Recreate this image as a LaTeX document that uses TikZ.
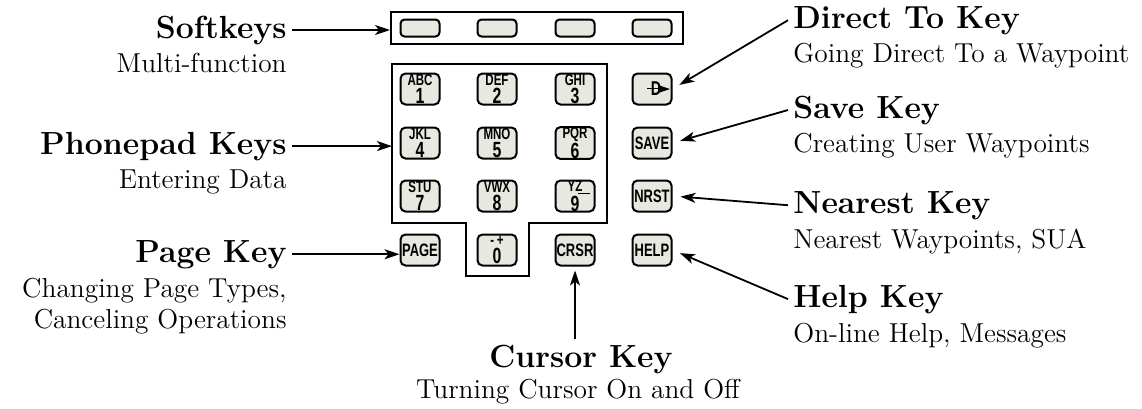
\documentclass[tikz,border=0pt]{standalone}
\usepackage{fontspec}
\usepackage{tikz}
\usetikzlibrary{arrows.meta}
\newfontfamily\keyfont[FakeStretch=0.72]{Liberation Sans}
\definecolor{ink}{HTML}{000000}
\definecolor{keyfill}{HTML}{E8E8E0}
\newcommand{\keytxt}[2]{\shortstack{\fontsize{8}{8}\selectfont #1\\[-2pt]\fontsize{11}{11}\selectfont #2}}
\tikzset{
  padframe/.style={draw=ink, line width=1pt, line join=miter},
  keybox/.style={
    draw=ink,
    fill=keyfill,
    line width=1pt,
    rounded corners=2.5pt,
    minimum width=19.5pt,
    minimum height=15.5pt,
    inner sep=0pt,
    font=\keyfont\bfseries
  },
  softkey/.style={keybox, minimum height=8.5pt, rounded corners=2pt},
  wordkey/.style={keybox, font=\keyfont\bfseries\fontsize{9}{9}\selectfont},
  lbl/.style={font=\bfseries\fontsize{16}{18}\selectfont, inner sep=2.5pt},
  lblsub/.style={font=\fontsize{13.7}{15.5}\selectfont, inner sep=2.5pt},
  pointer/.style={draw=ink, line width=0.9pt, -{Stealth[length=7.5pt,width=5pt,inset=2pt]}}
}

\begin{document}
\begin{tikzpicture}[x=0.5pt, y=-0.5pt]
  \useasboundingbox (0,0) rectangle (1142,408);

  \node[padframe, minimum width=146pt, minimum height=16pt, inner sep=0pt] (softbar) at (537,28) {};
  \node[softkey] (sk1) at (420,28) {};
  \node[softkey] (sk2) at (497,28) {};
  \node[softkey] (sk3) at (575,28) {};
  \node[softkey] (sk4) at (652,28) {};

  \draw[padframe] (392,64) -- (607,64) -- (607,223) -- (529,223) -- (529,276)
    -- (466,276) -- (466,223) -- (392,223) -- cycle;
  \coordinate (padwest) at (392,145);

  \node[keybox] (k1) at (420,89) {\keytxt{ABC}{1}};
  \node[keybox] (k2) at (497,89) {\keytxt{DEF}{2}};
  \node[keybox] (k3) at (575,89) {\keytxt{GHI}{3}};
  \node[keybox] (kdto) at (652,89) {\fontsize{10}{10}\selectfont\hspace{4pt}\rlap{\kern-2pt\rule[3.3pt]{6pt}{0.7pt}}D\hspace{6.5pt}};
  \fill[ink] (kdto.center) ++(6,-4) -- ++(12,4) -- ++(-12,4) -- cycle;
  \node[keybox] (k4) at (420,143) {\keytxt{JKL}{4}};
  \node[keybox] (k5) at (497,143) {\keytxt{MNO}{5}};
  \node[keybox] (k6) at (575,143) {\keytxt{PQR}{6}};
  \node[wordkey] (ksave) at (652,143) {SAVE};
  \node[keybox] (k7) at (420,196) {\keytxt{STU}{7}};
  \node[keybox] (k8) at (497,196) {\keytxt{VWX}{8}};
  \node[keybox] (k9) at (575,196) {\keytxt{YZ\rlap{\kern-2pt\rule[-1pt]{6pt}{0.4pt}}}{9}};
  \node[wordkey] (knrst) at (652,196) {NRST};
  \node[wordkey] (kpage) at (420,250) {PAGE};
  \node[keybox] (k0) at (497,250) {\keytxt{-\,+}{0}};
  \node[wordkey] (kcrsr) at (575,250) {CRSR};
  \node[wordkey] (khelp) at (652,250) {HELP};

  \node[lbl, anchor=base east] (softlbl) at (292,38) {Softkeys};
  \node[lblsub, anchor=base east] (softsub) at (292,72) {Multi-function};
  \node[lbl, anchor=base east] (padlbl) at (292,154) {Phonepad Keys};
  \node[lblsub, anchor=base east] (padsub) at (292,188) {Entering Data};
  \node[lbl, anchor=base east] (pagelbl) at (292,262) {Page Key};
  \node[lblsub, anchor=base east] (pagesub1) at (292,297) {Changing Page Types,};
  \node[lblsub, anchor=base east] (pagesub2) at (292,328) {Canceling Operations};

  \node[lbl, anchor=base west] (dtolbl) at (788,28) {Direct To Key};
  \node[lblsub, anchor=base west] (dtosub) at (788,62) {Going Direct To a Waypoint};
  \node[lbl, anchor=base west] (savelbl) at (788,118) {Save Key};
  \node[lblsub, anchor=base west] (savesub) at (788,152) {Creating User Waypoints};
  \node[lbl, anchor=base west] (nrstlbl) at (788,213) {Nearest Key};
  \node[lblsub, anchor=base west] (nrstsub) at (788,248) {Nearest Waypoints, SUA};
  \node[lbl, anchor=base west] (helplbl) at (788,307) {Help Key};
  \node[lblsub, anchor=base west] (helpsub) at (788,342) {On-line Help, Messages};

  \node[lbl, anchor=base] (crsrlbl) at (581,367) {Cursor Key};
  \node[lblsub, anchor=base] (crsrsub) at (578,398) {Turning Cursor On and Off};

  \draw[pointer] (softlbl.east) -- (softlbl.east -| softbar.west);
  \draw[pointer] (padlbl.east) -- (padlbl.east -| padwest);
  \draw[pointer] (pagelbl.east) -- (pagelbl.east -| kpage.west);
  \draw[pointer, shorten >=4pt] (dtolbl.west) -- (kdto.east);
  \draw[pointer, shorten >=4pt] (savelbl.west) -- (ksave.east);
  \draw[pointer, shorten >=4pt] (nrstlbl.west) -- (knrst.east);
  \draw[pointer, shorten >=4pt] (helplbl.west) -- (khelp.east);
  \draw[pointer, shorten >=2pt] (crsrlbl.north -| kcrsr.south) -- (kcrsr.south);
\end{tikzpicture}
\end{document}
